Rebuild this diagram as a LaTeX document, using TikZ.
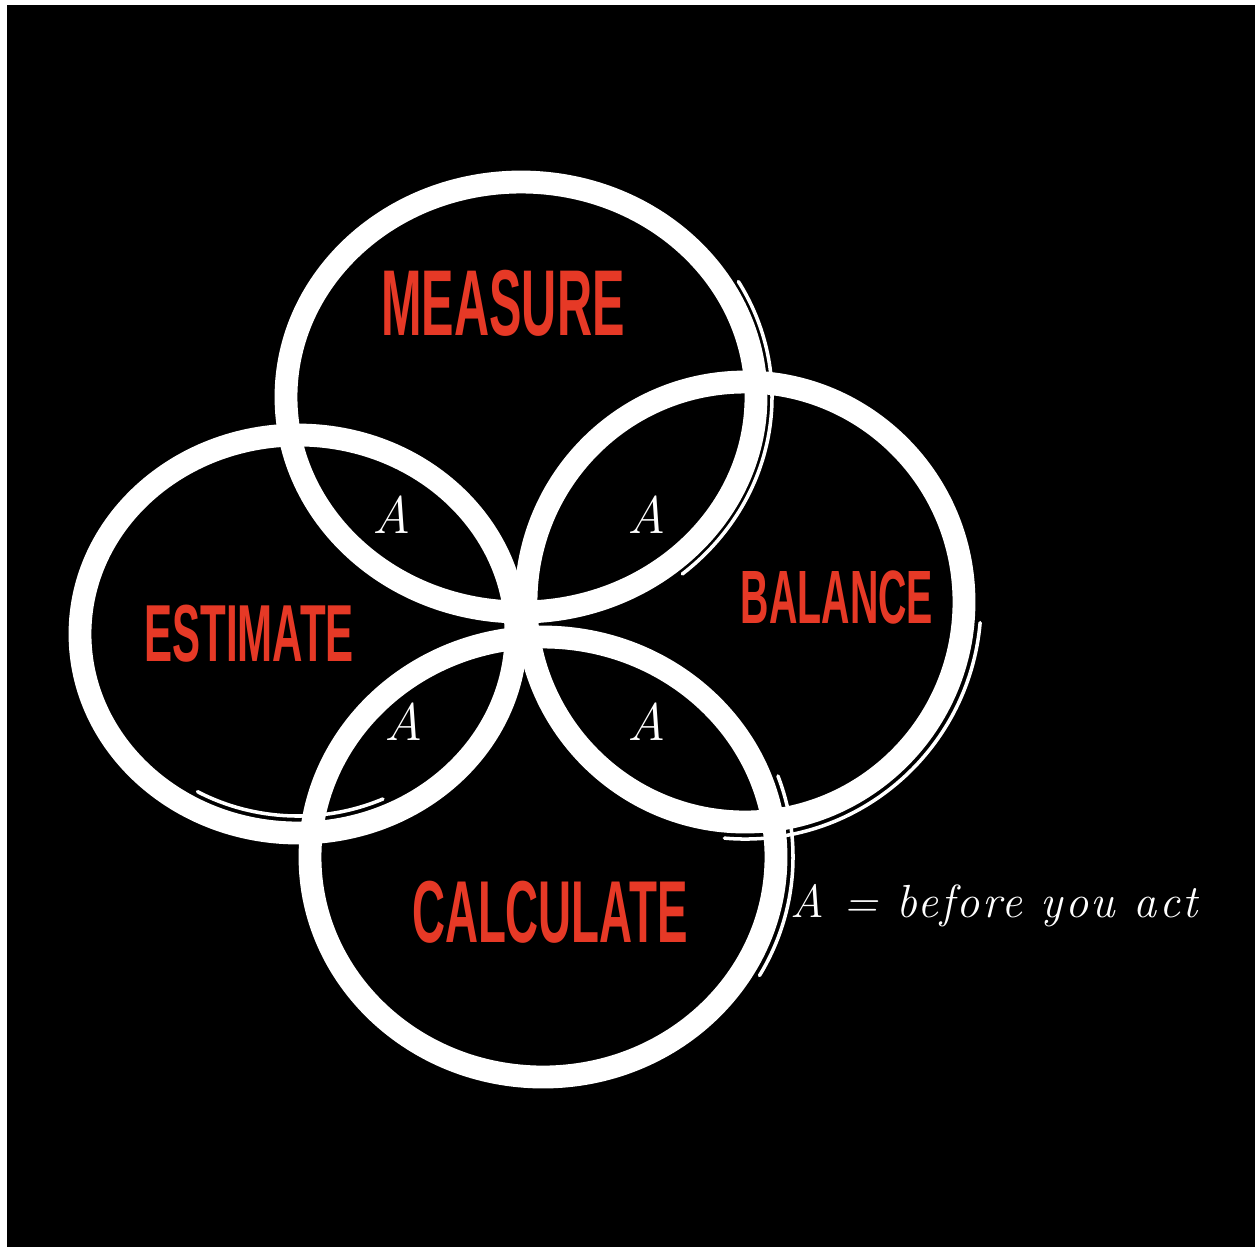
\documentclass[tikz,border=0pt]{standalone}
\usepackage{fontspec}
\usepackage{tikz}
\usetikzlibrary{positioning}
\newfontfamily\wordfont{Liberation Sans}[UprightFont=* Bold, FakeStretch=0.52]
\newfontfamily\notefont{Latin Modern Roman}[LetterSpace=5]
\definecolor{inkRed}{RGB}{230, 57, 38}
\definecolor{inkPaper}{RGB}{255, 255, 255}
\definecolor{inkBoard}{RGB}{0, 0, 0}

\begin{document}
\begin{tikzpicture}[x=0.01cm, y=-0.01cm,
    ring/.style={draw=inkPaper, line width=6.5pt},
    echo/.style={draw=inkPaper, line width=1pt, line cap=round},
    word/.style={text=inkRed, inner sep=0pt, font=\wordfont},
    amark/.style={text=inkPaper, inner sep=0pt, font=\fontsize{15pt}{18pt}\selectfont\itshape}]
    % board
    \fill[inkPaper] (0,0) rectangle (1255,1247);
    \fill[inkBoard] (7,5) rectangle (1255,1247);
    \useasboundingbox (0,0) rectangle (1255,1247);

    % four rings meeting in the middle
    \draw[ring] (521,397) ellipse [x radius=235, y radius=215];
    \draw[ring] (298,634) ellipse [x radius=218, y radius=199];
    \draw[ring] (745,602) ellipse [x radius=219, y radius=220];
    \draw[ring] (543,857) ellipse [x radius=233, y radius=220];

    % brush echoes
    \draw[echo] (521,397) ++(-30:251 and 231) arc [start angle=-30, end angle=50, x radius=251, y radius=231];
    \draw[echo] (745,602) ++(5:236 and 237) arc [start angle=5, end angle=95, x radius=236, y radius=237];
    \draw[echo] (543,857) ++(-20:250 and 237) arc [start angle=-20, end angle=30, x radius=250, y radius=237];
    \draw[echo] (298,634) ++(65:201 and 182) arc [start angle=65, end angle=120, x radius=201, y radius=182];

    % names
    \node[word, font=\wordfont\fontsize{26.6pt}{30pt}\selectfont] (measure) at (503,303) {MEASURE};
    \node[word, font=\wordfont\fontsize{23pt}{26pt}\selectfont] (estimate) at (249,634) {ESTIMATE};
    \node[word, font=\wordfont\fontsize{21.5pt}{25pt}\selectfont] (balance) at (837,597) {BALANCE};
    \node[word, font=\wordfont\fontsize{25pt}{28pt}\selectfont] (calculate) at (550,912) {CALCULATE};

    % overlaps
    \node[amark] (aMeasEst) at (392,515) {A};
    \node[amark] (aMeasBal) at (647,515) {A};
    \node[amark] (aEstCalc) at (404,722) {A};
    \node[amark] (aBalCalc) at (647,722) {A};

    \node[text=inkPaper, inner sep=0pt, anchor=base west,
          font=\notefont\itshape\fontsize{13.2pt}{16pt}\selectfont] (key) at (790,917) {A = before you act};
\end{tikzpicture}
\end{document}
